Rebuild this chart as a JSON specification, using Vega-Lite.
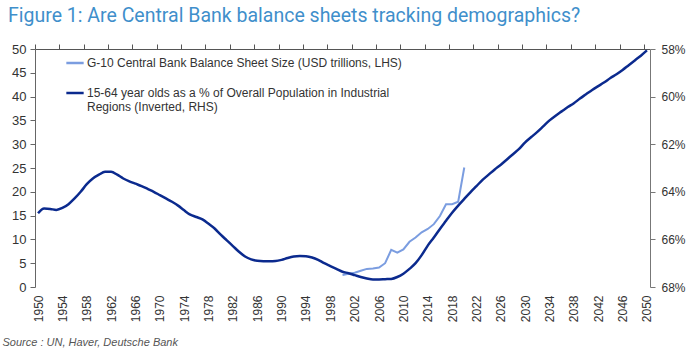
{
  "$schema": "https://vega.github.io/schema/vega-lite/v6.json",
  "width": 615,
  "height": 238,
  "autosize": {"type": "none"},
  "padding": {"left": 35, "top": 49, "right": 46, "bottom": 63},
  "background": "white",
  "view": {"stroke": null},
  "title": {
    "text": "Figure 1: Are Central Bank balance sheets tracking demographics?",
    "anchor": "start",
    "frame": "group",
    "dx": -27,
    "offset": 17,
    "font": "Roboto",
    "fontSize": 19.5,
    "fontWeight": "normal",
    "color": "#3f8fcb"
  },
  "datasets": {
    "cb": [
      {"year": 2000, "value": 2.5, "series": "G-10 Central Bank Balance Sheet Size (USD trillions, LHS)"},
      {"year": 2001, "value": 2.8, "series": "G-10 Central Bank Balance Sheet Size (USD trillions, LHS)"},
      {"year": 2002, "value": 3.0, "series": "G-10 Central Bank Balance Sheet Size (USD trillions, LHS)"},
      {"year": 2003, "value": 3.4, "series": "G-10 Central Bank Balance Sheet Size (USD trillions, LHS)"},
      {"year": 2004, "value": 3.8, "series": "G-10 Central Bank Balance Sheet Size (USD trillions, LHS)"},
      {"year": 2005, "value": 3.9, "series": "G-10 Central Bank Balance Sheet Size (USD trillions, LHS)"},
      {"year": 2006, "value": 4.1, "series": "G-10 Central Bank Balance Sheet Size (USD trillions, LHS)"},
      {"year": 2007, "value": 5.0, "series": "G-10 Central Bank Balance Sheet Size (USD trillions, LHS)"},
      {"year": 2008, "value": 7.8, "series": "G-10 Central Bank Balance Sheet Size (USD trillions, LHS)"},
      {"year": 2009, "value": 7.2, "series": "G-10 Central Bank Balance Sheet Size (USD trillions, LHS)"},
      {"year": 2010, "value": 7.9, "series": "G-10 Central Bank Balance Sheet Size (USD trillions, LHS)"},
      {"year": 2011, "value": 9.5, "series": "G-10 Central Bank Balance Sheet Size (USD trillions, LHS)"},
      {"year": 2012, "value": 10.4, "series": "G-10 Central Bank Balance Sheet Size (USD trillions, LHS)"},
      {"year": 2013, "value": 11.5, "series": "G-10 Central Bank Balance Sheet Size (USD trillions, LHS)"},
      {"year": 2014, "value": 12.2, "series": "G-10 Central Bank Balance Sheet Size (USD trillions, LHS)"},
      {"year": 2015, "value": 13.2, "series": "G-10 Central Bank Balance Sheet Size (USD trillions, LHS)"},
      {"year": 2016, "value": 14.9, "series": "G-10 Central Bank Balance Sheet Size (USD trillions, LHS)"},
      {"year": 2017, "value": 17.4, "series": "G-10 Central Bank Balance Sheet Size (USD trillions, LHS)"},
      {"year": 2018, "value": 17.4, "series": "G-10 Central Bank Balance Sheet Size (USD trillions, LHS)"},
      {"year": 2019, "value": 17.9, "series": "G-10 Central Bank Balance Sheet Size (USD trillions, LHS)"},
      {"year": 2020, "value": 25.1, "series": "G-10 Central Bank Balance Sheet Size (USD trillions, LHS)"}
    ],
    "demo": [
      {"year": 1950, "pct": 64.90}, {"year": 1951, "pct": 64.70}, {"year": 1952, "pct": 64.72}, {"year": 1953, "pct": 64.76},
      {"year": 1954, "pct": 64.68}, {"year": 1955, "pct": 64.52}, {"year": 1956, "pct": 64.28}, {"year": 1957, "pct": 64.00},
      {"year": 1958, "pct": 63.68}, {"year": 1959, "pct": 63.44}, {"year": 1960, "pct": 63.28}, {"year": 1961, "pct": 63.16},
      {"year": 1962, "pct": 63.16}, {"year": 1963, "pct": 63.28}, {"year": 1964, "pct": 63.44}, {"year": 1965, "pct": 63.56},
      {"year": 1966, "pct": 63.66}, {"year": 1967, "pct": 63.76}, {"year": 1968, "pct": 63.88}, {"year": 1969, "pct": 64.00},
      {"year": 1970, "pct": 64.14}, {"year": 1971, "pct": 64.28}, {"year": 1972, "pct": 64.42}, {"year": 1973, "pct": 64.58},
      {"year": 1974, "pct": 64.78}, {"year": 1975, "pct": 64.96}, {"year": 1976, "pct": 65.06}, {"year": 1977, "pct": 65.16},
      {"year": 1978, "pct": 65.34}, {"year": 1979, "pct": 65.54}, {"year": 1980, "pct": 65.80}, {"year": 1981, "pct": 66.04},
      {"year": 1982, "pct": 66.28}, {"year": 1983, "pct": 66.52}, {"year": 1984, "pct": 66.72}, {"year": 1985, "pct": 66.84},
      {"year": 1986, "pct": 66.90}, {"year": 1987, "pct": 66.92}, {"year": 1988, "pct": 66.92}, {"year": 1989, "pct": 66.91},
      {"year": 1990, "pct": 66.86}, {"year": 1991, "pct": 66.78}, {"year": 1992, "pct": 66.72}, {"year": 1993, "pct": 66.70},
      {"year": 1994, "pct": 66.71}, {"year": 1995, "pct": 66.76}, {"year": 1996, "pct": 66.86}, {"year": 1997, "pct": 67.00},
      {"year": 1998, "pct": 67.12}, {"year": 1999, "pct": 67.24}, {"year": 2000, "pct": 67.36}, {"year": 2001, "pct": 67.42},
      {"year": 2002, "pct": 67.50}, {"year": 2003, "pct": 67.58}, {"year": 2004, "pct": 67.64}, {"year": 2005, "pct": 67.68},
      {"year": 2006, "pct": 67.68}, {"year": 2007, "pct": 67.67}, {"year": 2008, "pct": 67.66}, {"year": 2009, "pct": 67.58},
      {"year": 2010, "pct": 67.44}, {"year": 2011, "pct": 67.24}, {"year": 2012, "pct": 67.00}, {"year": 2013, "pct": 66.66},
      {"year": 2014, "pct": 66.26}, {"year": 2015, "pct": 65.92}, {"year": 2016, "pct": 65.56}, {"year": 2017, "pct": 65.22},
      {"year": 2018, "pct": 64.88}, {"year": 2019, "pct": 64.58}, {"year": 2020, "pct": 64.30}, {"year": 2021, "pct": 64.02},
      {"year": 2022, "pct": 63.76}, {"year": 2023, "pct": 63.50}, {"year": 2024, "pct": 63.28}, {"year": 2025, "pct": 63.06},
      {"year": 2026, "pct": 62.86}, {"year": 2027, "pct": 62.64}, {"year": 2028, "pct": 62.42}, {"year": 2029, "pct": 62.20},
      {"year": 2030, "pct": 61.92}, {"year": 2031, "pct": 61.70}, {"year": 2032, "pct": 61.48}, {"year": 2033, "pct": 61.24},
      {"year": 2034, "pct": 61.00}, {"year": 2035, "pct": 60.80}, {"year": 2036, "pct": 60.62}, {"year": 2037, "pct": 60.44},
      {"year": 2038, "pct": 60.28}, {"year": 2039, "pct": 60.08}, {"year": 2040, "pct": 59.90}, {"year": 2041, "pct": 59.72},
      {"year": 2042, "pct": 59.56}, {"year": 2043, "pct": 59.40}, {"year": 2044, "pct": 59.22}, {"year": 2045, "pct": 59.06},
      {"year": 2046, "pct": 58.88}, {"year": 2047, "pct": 58.68}, {"year": 2048, "pct": 58.48}, {"year": 2049, "pct": 58.28},
      {"year": 2050, "pct": 58.06}
    ]
  },
  "layer": [
    {
      "data": {"name": "cb"},
      "mark": {"type": "line", "strokeWidth": 2, "interpolate": "linear"},
      "encoding": {
        "x": {
          "field": "year", "type": "quantitative",
          "scale": {"domain": [1949.5, 2050.5], "nice": false, "zero": false},
          "axis": {
            "values": [1950, 1954, 1958, 1962, 1966, 1970, 1974, 1978, 1982, 1986, 1990, 1994, 1998, 2002, 2006, 2010, 2014, 2018, 2022, 2026, 2030, 2034, 2038, 2042, 2046, 2050],
            "labelAngle": 270, "ticks": false, "tickSize": 0, "domain": false, "grid": false,
            "labelPadding": 8, "labelFont": "Liberation Sans", "labelFontSize": 12, "labelColor": "#333333",
            "labelOverlap": false, "labelFlush": false, "format": "d",
            "title": "Source : UN, Haver, Deutsche Bank",
            "titleFont": "Liberation Sans", "titleFontSize": 11, "titleFontStyle": "italic", "titleFontWeight": "normal",
            "titleColor": "#555555", "titleAnchor": "start", "titleAlign": "left", "titleBaseline": "alphabetic",
            "titleX": -33, "titleY": 58
          }
        },
        "y": {
          "field": "value", "type": "quantitative",
          "scale": {"domain": [0, 50], "nice": false},
          "axis": {
            "orient": "left", "values": [0, 5, 10, 15, 20, 25, 30, 35, 40, 45, 50], "grid": false,
            "tickSize": 5, "tickColor": "#666666", "domainColor": "#666666", "labelPadding": 4,
            "labelFont": "Liberation Sans", "labelFontSize": 13, "labelColor": "#333333", "title": null
          }
        },
        "color": {
          "field": "series", "type": "nominal",
          "scale": {
            "domain": ["G-10 Central Bank Balance Sheet Size (USD trillions, LHS)", "15-64 year olds as a % of Overall Population in Industrial Regions (Inverted, RHS)"],
            "range": ["#7b9de0", "#0b2a8e"]
          },
          "legend": {
            "orient": "none", "legendX": 30, "legendY": 4, "title": null,
            "symbolType": "stroke", "symbolStrokeWidth": 2.5, "symbolSize": 300,
            "labelFont": "Liberation Sans", "labelFontSize": 12, "labelColor": "#333333", "labelLimit": 600,
            "rowPadding": 14, "labelOffset": 2, "padding": 0,
            "labelExpr": "datum.label == '15-64 year olds as a % of Overall Population in Industrial Regions (Inverted, RHS)' ? ['15-64 year olds as a % of Overall Population in Industrial', 'Regions (Inverted, RHS)'] : datum.label"
          }
        }
      }
    },
    {
      "data": {"name": "demo"},
      "transform": [{"calculate": "'15-64 year olds as a % of Overall Population in Industrial Regions (Inverted, RHS)'", "as": "series"}],
      "mark": {"type": "line", "strokeWidth": 2.5, "interpolate": "monotone"},
      "encoding": {
        "x": {
          "field": "year", "type": "quantitative",
          "scale": {"domain": [1949.5, 2050.5], "nice": false, "zero": false},
          "axis": {
            "values": [1949.5, 1953.5, 1957.5, 1961.5, 1965.5, 1969.5, 1973.5, 1977.5, 1981.5, 1985.5, 1989.5, 1993.5, 1997.5, 2001.5, 2005.5, 2009.5, 2013.5, 2017.5, 2021.5, 2025.5, 2029.5, 2033.5, 2037.5, 2041.5, 2045.5, 2049.5],
            "labels": false, "ticks": true, "tickSize": 5, "tickColor": "#555555", "domainColor": "#555555",
            "grid": false, "title": null
          }
        },
        "y": {
          "field": "pct", "type": "quantitative",
          "scale": {"domain": [58, 68], "nice": false, "zero": false, "reverse": true},
          "axis": {
            "orient": "right", "values": [58, 60, 62, 64, 66, 68], "grid": false,
            "tickSize": 5, "tickColor": "#777777", "domainColor": "#777777", "labelPadding": 6,
            "labelExpr": "datum.value + '%'",
            "labelFont": "Liberation Sans", "labelFontSize": 12, "labelColor": "#333333", "title": null
          }
        },
        "color": {"field": "series", "type": "nominal"}
      }
    }
  ],
  "resolve": {"scale": {"y": "independent"}, "axis": {"x": "independent", "y": "independent"}}
}
